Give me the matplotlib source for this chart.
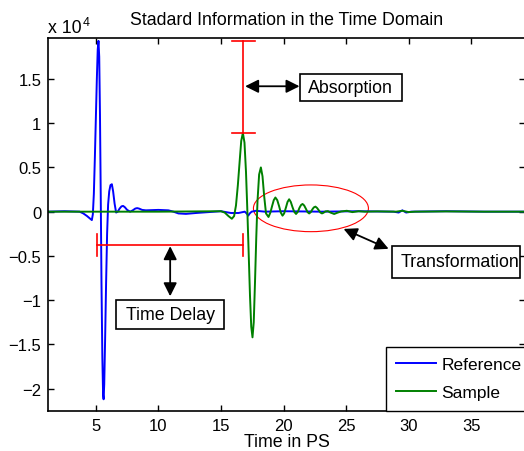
import numpy as np
import matplotlib
matplotlib.use('Agg')
from matplotlib import pyplot as plt
from matplotlib.patches import Ellipse, Rectangle
from matplotlib.ticker import FuncFormatter

plt.rcParams['font.family'] = ['Liberation Sans', 'DejaVu Sans']

## Données

# Signal de référence (bleu)
t_ref = [1.2, 2.5, 3.7, 4.0, 4.3, 4.55, 4.68, 4.76, 4.84, 4.92, 5.0, 5.08, 5.15,
         5.21, 5.27, 5.33, 5.39, 5.45, 5.52, 5.58, 5.62, 5.67, 5.74, 5.82, 5.9,
         5.98, 6.07, 6.17, 6.28, 6.38, 6.5, 6.62, 6.75, 6.9, 7.05, 7.18, 7.32,
         7.5, 7.74, 7.95, 8.15, 8.3, 8.45, 8.7, 9.0, 10.0, 10.8, 11.2, 11.6,
         12.2, 13.0, 14.0, 15.0, 15.8, 16.4, 16.9, 17.05, 17.18, 17.3, 17.45,
         17.8, 18.5, 20.0, 23.0, 26.0, 28.8, 29.2, 29.5, 29.8, 30.2, 33.0, 36.0,
         39.3]
y_ref = [0, 50, 0, -200, -500, -800, -950, -300, 2000, 6000, 10500, 15000, 18300,
         19300, 17500, 11000, 2000, -8000, -16500, -20700, -21200, -19500, -14500,
         -8000, -2500, 800, 2300, 3000, 3100, 2300, 900, -100, 0, 350, 600, 650,
         500, 200, 0, 150, 350, 400, 350, 200, 150, 200, 150, 0, -200, -250, -150,
         -50, 50, -150, -150, 0, -200, -450, -200, 0, 100, 0, 50, 0, 50, 0, -100,
         150, -100, 0, 50, 0, 0]

# Signal de l'échantillon (vert)
t_ech = [1.2, 5.0, 10.0, 15.0, 15.3, 15.6, 15.87, 16.05, 16.2, 16.35, 16.5, 16.62,
         16.75, 16.88, 17.0, 17.1, 17.2, 17.32, 17.42, 17.52, 17.62, 17.72, 17.82,
         17.92, 18.05, 18.19, 18.32, 18.45, 18.6, 18.8, 18.95, 19.1, 19.22, 19.35,
         19.5, 19.65, 19.78, 19.92, 20.05, 20.2, 20.32, 20.45, 20.58, 20.72, 20.85,
         21.0, 21.15, 21.28, 21.4, 21.52, 21.65, 21.78, 21.92, 22.05, 22.18, 22.3,
         22.42, 22.55, 22.68, 22.82, 22.95, 23.07, 23.2, 23.35, 23.55, 23.75, 24.05,
         24.3, 24.6, 25.06, 25.5, 26.0, 26.5, 27.5, 29.0, 29.5, 30.0, 30.5, 33.0,
         36.0, 39.3]
y_ech = [0, 0, 0, 50, -100, -500, -800, -500, 700, 3000, 5800, 8000, 8900, 7800,
         4500, 500, -4000, -9500, -13000, -14200, -12500, -8000, -3000, 1200, 4200,
         5000, 4000, 1800, -200, -600, -100, 700, 1300, 1600, 1300, 600, -100, -450,
         -200, 500, 1100, 1400, 1100, 500, 0, -260, 0, 450, 750, 870, 700, 350, -50,
         -200, -50, 250, 480, 570, 420, 150, -100, -200, -120, 30, 60, -100, -260,
         -120, 20, 100, -50, 50, 0, 30, 0, 100, -50, 0, 30, 0, 0]

xticks = [5, 10, 15, 20, 25, 30, 35]
yticks = [-20000, -15000, -10000, -5000, 0, 5000, 10000, 15000]

## Figure

fig = plt.figure(figsize=(5.24, 4.52), dpi=100)
ax = fig.add_axes([48.3/524, 40.3/452, 476.7/524, 372.4/452])

ax.plot(t_ref, y_ref, color=(0, 0, 1), lw=1.4, label='Reference')
ax.plot(t_ech, y_ech, color=(0, 0.5, 0), lw=1.4, label='Sample')

ax.set_xlim(1.2, 39.3)
ax.set_ylim(-22490, 19590)
ax.set_xticks(xticks)
ax.set_yticks(yticks)
ax.yaxis.set_major_formatter(FuncFormatter(lambda v, p: ('%g' % (v/1e4)).replace('-', '\u2212')))
ax.tick_params(direction='in', top=True, right=True, length=4, width=1, labelsize=12, pad=5)
for s in ax.spines.values():
    s.set_linewidth(1.2)

ax.set_title('Stadard Information in the Time Domain', fontsize=12.8, pad=10)
ax.set_xlabel('Time in PS', fontsize=12.8, labelpad=0)
fig.text(48/524, 1-33/452, 'x 10', fontsize=12.8)
fig.text(83/524, 1-26/452, '4', fontsize=9)

## Annotations

i_r = int(np.argmax(y_ref))
i_e = int(np.argmax(y_ech))
xa = t_ech[i_e] + 0.05
# absorption
ax.plot([xa, xa], [y_ech[i_e], y_ref[i_r]], color='r', lw=1.2)
ax.plot([xa-0.95, xa+0.95], [y_ref[i_r], y_ref[i_r]], color='r', lw=1.2)
ax.plot([xa-0.95, xa+0.95], [y_ech[i_e], y_ech[i_e]], color='r', lw=1.2)
# retard
yd = -3770
x0 = t_ref[i_r] - 0.08
ax.plot([x0, xa], [yd, yd], color='r', lw=1.2)
ax.plot([x0, x0], [yd-1250, yd+1250], color='r', lw=1.2)
ax.plot([xa, xa], [yd-1250, yd+1250], color='r', lw=1.2)
# transformation
ax.add_patch(Ellipse((22.19, 380), 9.19, 5280, fill=False, ec='r', lw=0.8))

fl = dict(arrowstyle='<|-|>,head_length=0.5,head_width=0.25', color='k', lw=1.3,
          shrinkA=0, shrinkB=0, mutation_scale=16)
ax.annotate('', xy=(16.93, 14170), xytext=(21.28, 14170), arrowprops=fl)
ax.annotate('', xy=(10.94, -3900), xytext=(10.94, -9560), arrowprops=fl)
ax.annotate('', xy=(24.8, -1950), xytext=(28.4, -4200), arrowprops=fl)

def Boite(x1, x2, y1, y2):
    ax.add_patch(Rectangle((x1, y1), x2-x1, y2-y1, fill=True, fc='w', ec='k', lw=1.2, zorder=4))

Boite(21.3, 29.45, 12470, 15560)
ax.text(25.35, 14000, 'Absorption', fontsize=12.8, ha='center', va='center', zorder=5)
Boite(6.63, 15.27, -13260, -9980)
ax.text(10.94, -11670, 'Time Delay', fontsize=12.8, ha='center', va='center', zorder=5)
Boite(28.66, 38.92, -7520, -3910)
ax.text(29.32, -5680, 'Transformation', fontsize=12.8, ha='left', va='center', zorder=5)

leg = ax.legend(loc='lower left', bbox_to_anchor=((386-48.3)/476.7, 0.0), fancybox=False,
                edgecolor='k', framealpha=1, fontsize=12.5, handlelength=2.3,
                handletextpad=0.3, borderaxespad=0, labelspacing=0.74, borderpad=0.6)
leg.get_frame().set_linewidth(1.0)

plt.savefig('out.png', dpi=100)
